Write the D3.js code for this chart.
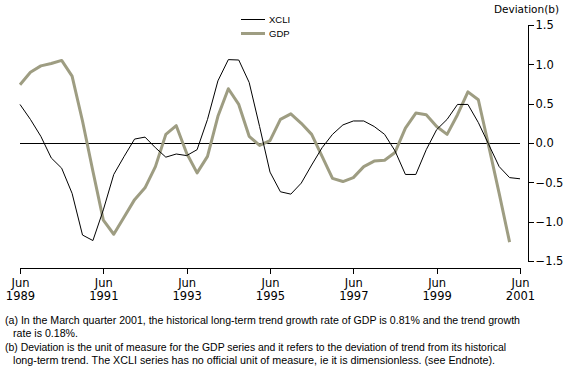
<!DOCTYPE html>
<html><head><meta charset="utf-8">
<script src="https://cdn.jsdelivr.net/npm/d3@7"></script>
<style>
html,body{margin:0;padding:0;background:#fff;}
svg{display:block;}
</style></head>
<body>
<script>
// Quarterly data, Jun 1989 (index 0) onwards
const xcli = [0.49,0.30,0.085,-0.19,-0.32,-0.64,-1.17,-1.24,-0.85,-0.40,-0.17,0.05,0.075,-0.06,-0.18,-0.14,-0.16,-0.085,0.30,0.79,1.06,1.055,0.77,0.21,-0.37,-0.62,-0.65,-0.51,-0.28,-0.06,0.11,0.23,0.28,0.28,0.21,0.11,-0.10,-0.40,-0.40,-0.085,0.17,0.30,0.49,0.49,0.26,-0.02,-0.30,-0.44,-0.455];
const gdp = [0.74,0.90,0.98,1.01,1.05,0.85,0.28,-0.36,-0.98,-1.16,-0.94,-0.72,-0.57,-0.30,0.11,0.22,-0.13,-0.38,-0.17,0.34,0.69,0.49,0.085,-0.03,0.03,0.30,0.37,0.25,0.11,-0.17,-0.45,-0.49,-0.44,-0.30,-0.23,-0.22,-0.12,0.19,0.38,0.36,0.21,0.11,0.36,0.65,0.55,-0.04,-0.64,-1.26];
const xTickIndex = [0,8,16,24,32,40,48];
const xTickMonth = ["Jun","Jun","Jun","Jun","Jun","Jun","Jun"];
const xTickYear = ["1989","1991","1993","1995","1997","1999","2001"];
const yTicks = [1.5,1.0,0.5,0.0,-0.5,-1.0,-1.5];
const seriesNames = ["XCLI","GDP"];
const footnotes = [
  "(a) In the March quarter 2001, the historical long-term trend growth rate of GDP is 0.81% and the trend growth",
  "rate is 0.18%.",
  "(b) Deviation is the unit of measure for the GDP series and it refers to the deviation of trend from its historical",
  "long-term trend.  The XCLI series has no official unit of measure, ie it is dimensionless.  (see Endnote)."
];

const W = 567, H = 378;
const svg = d3.select("body").append("svg").attr("width", W).attr("height", H);

const x = d3.scaleLinear().domain([0, 48]).range([20, 520]);
const y = d3.scaleLinear().domain([-1.5, 1.5]).range([261, 25]);
const gdpColor = "#9e9d82";

// zero line
svg.append("line").attr("x1", x(0)).attr("x2", x(48))
  .attr("y1", y(0)).attr("y2", y(0))
  .attr("stroke", "#000").attr("stroke-width", 1).attr("shape-rendering","crispEdges");

// right axis
const yAxis = d3.axisRight(y).tickValues(yTicks).tickSize(5).tickPadding(2)
  .tickFormat(d => d3.format(".1f")(d).replace("-", "\u2013"));
const gy = svg.append("g").attr("transform", "translate(528.5,0)").call(yAxis);
gy.select(".domain").attr("d", `M5,${y(1.5)}H0V${y(-1.5)}H5`).attr("shape-rendering","crispEdges");
gy.selectAll(".tick line").attr("shape-rendering","crispEdges");
gy.selectAll("text").attr("font-family", "DejaVu Sans").attr("font-size", "11.5px").attr("fill","#000");

// bottom axis
const xAxis = d3.axisBottom(x).tickValues(xTickIndex).tickSize(5).tickFormat("");
const gx = svg.append("g").attr("transform", "translate(0,268.5)").call(xAxis);
gx.select(".domain").attr("d", `M${x(0)},5V0H${x(48)}V5`).attr("shape-rendering","crispEdges");
gx.selectAll(".tick line").attr("shape-rendering","crispEdges");
gx.selectAll(".tick").each(function(d, i) {
  const t = d3.select(this);
  t.append("text").attr("y", 18.5).attr("text-anchor","middle").attr("fill","#000")
    .attr("font-family","DejaVu Sans").attr("font-size","11.5px").text(xTickMonth[i]);
  t.append("text").attr("y", 31.5).attr("text-anchor","middle").attr("fill","#000")
    .attr("font-family","DejaVu Sans").attr("font-size","11.5px").text(xTickYear[i]);
});

// axis title
svg.append("text").attr("x", 559).attr("y", 13).attr("text-anchor","end")
  .attr("font-family","DejaVu Sans").attr("font-size","10.5px").attr("fill","#000").text("Deviation(b)");

// lines
const line = d3.line().x((d, i) => x(i)).y(d => y(d));
svg.append("path").datum(gdp).attr("d", line).attr("fill","none")
  .attr("stroke", gdpColor).attr("stroke-width", 3).attr("stroke-linejoin","round");
svg.append("path").datum(xcli).attr("d", line).attr("fill","none")
  .attr("stroke", "#000").attr("stroke-width", 1);

// legend
const legend = svg.append("g");
[["#000",1],[gdpColor,3]].forEach((s, i) => {
  const ly = 19.5 + i * 14;
  legend.append("line").attr("x1", 241).attr("x2", 265).attr("y1", ly).attr("y2", ly)
    .attr("stroke", s[0]).attr("stroke-width", s[1]);
  legend.append("text").attr("x", 269).attr("y", ly + 3.5)
    .attr("font-family","Liberation Sans").attr("font-size","9.5px").attr("fill","#000")
    .text(seriesNames[i]);
});

// footnotes
const fn = [
  {x: 5, y: 324, len: 515},
  {x: 13, y: 337, len: 65},
  {x: 5, y: 351, len: 501},
  {x: 13, y: 364, len: 482}
];
footnotes.forEach((t, i) => {
  svg.append("text").attr("x", fn[i].x).attr("y", fn[i].y)
    .attr("font-family","Liberation Sans").attr("font-size","10px").attr("fill","#000")
    .attr("textLength", fn[i].len).attr("lengthAdjust","spacingAndGlyphs")
    .text(t);
});
</script>
</body></html>
